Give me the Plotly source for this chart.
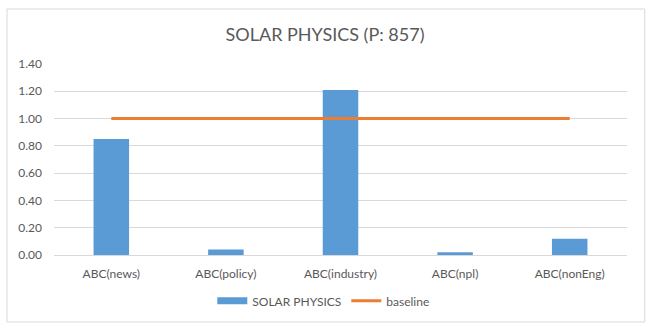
import plotly.graph_objects as go

categories = ["ABC(news)", "ABC(policy)", "ABC(industry)", "ABC(npl)", "ABC(nonEng)"]
solar_values = [0.85, 0.04, 1.21, 0.02, 0.12]
baseline_values = [1.0, 1.0, 1.0, 1.0, 1.0]
y_ticks = [0.0, 0.2, 0.4, 0.6, 0.8, 1.0, 1.2, 1.4]

FONT = "Lato"
GREY = "#595959"
BLUE = "#5B9BD5"
ORANGE = "#ED7D31"

fig = go.Figure()
fig.add_trace(go.Bar(x=categories, y=solar_values, name="SOLAR PHYSICS",
                     marker=dict(color=BLUE, line=dict(width=0)), width=0.31,
                     showlegend=False))
# legend entry for the bar series, drawn as a wide flat swatch like the original
fig.add_trace(go.Scatter(x=[None], y=[None], name="SOLAR PHYSICS", mode="lines",
                         line=dict(color=BLUE, width=7), showlegend=True))
fig.add_trace(go.Scatter(x=categories, y=baseline_values, name="baseline", mode="lines",
                         line=dict(color=ORANGE, width=3)))

fig.update_layout(
    width=650, height=328,
    margin=dict(l=54, r=23, t=64, b=73),
    paper_bgcolor="white", plot_bgcolor="white",
    font=dict(family=FONT, color=GREY, size=12),
    title=dict(text="SOLAR PHYSICS (P: 857)", x=0.5, xanchor="center", y=0.893, yanchor="middle",
               font=dict(family=FONT, size=18, color=GREY)),
    showlegend=True,
    legend=dict(orientation="h", x=0.47, xanchor="center", y=-0.24, yanchor="middle",
                font=dict(family=FONT, size=12, color=GREY), itemwidth=30, traceorder="normal"),
)
fig.update_xaxes(showgrid=False, showline=False, ticks="", ticklabelstandoff=10,
                 tickfont=dict(size=12, color=GREY))
fig.update_yaxes(range=[0, 1.4], tickvals=y_ticks, tickformat=".2f", showgrid=True,
                 gridcolor="#D9D9D9", gridwidth=1, zeroline=True, zerolinecolor="#D9D9D9",
                 zerolinewidth=1, showline=False, ticks="", ticklabelstandoff=11,
                 tickfont=dict(size=12, color=GREY))

fig.add_shape(type="rect", xref="paper", yref="paper",
              x0=-0.082, x1=1.031, y0=-0.351, y1=1.288,
              line=dict(color="#D9D9D9", width=1), fillcolor="rgba(0,0,0,0)", layer="below")

fig.write_html("out.html")
